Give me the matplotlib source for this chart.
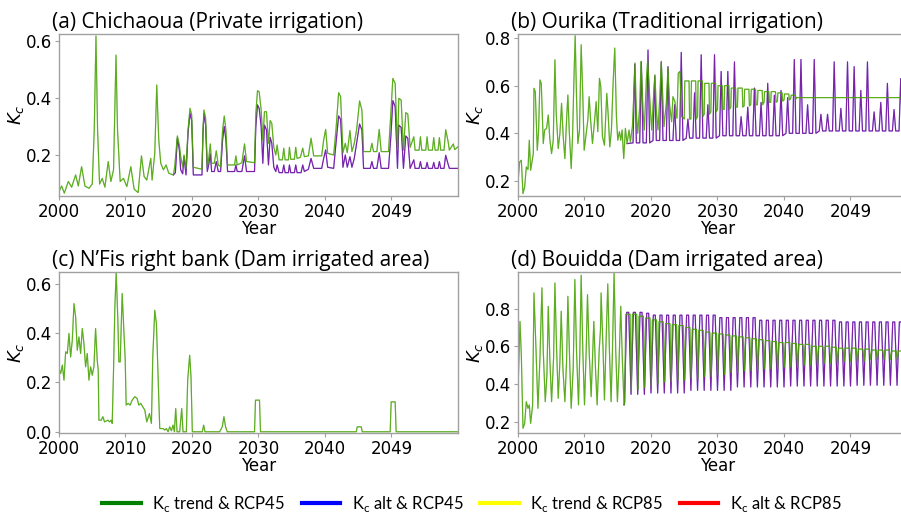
import matplotlib
matplotlib.use("Agg")
import matplotlib.pyplot as plt
from matplotlib.lines import Line2D

# ---------------- data ----------------
tick_years = [2000, 2010, 2020, 2030, 2040, 2050]
tick_labels = ["2000", "2010", "2020", "2030", "2040", "2049"]
titles = ["(a) Chichaoua (Private irrigation)",
          "(b) Ourika (Traditional irrigation)",
          "(c) N\u2019Fis right bank (Dam irrigated area)",
          "(d) Bouidda (Dam irrigated area)"]
legend_labels = [r"K$_\mathregular{c}$ trend & RCP45", r"K$_\mathregular{c}$ alt & RCP45",
                 r"K$_\mathregular{c}$ trend & RCP85", r"K$_\mathregular{c}$ alt & RCP85"]

# (a) Chichaoua  -- (year, Kc) vertices
a_hist = [(2000.0,0.073),(2000.4,0.092),(2000.8,0.067),(2001.4,0.108),(2001.9,0.088),(2002.5,0.131),
          (2002.9,0.092),(2003.4,0.160),(2003.9,0.092),(2004.5,0.084),(2005.0,0.099),(2005.3,0.289),
          (2005.56,0.619),(2005.8,0.289),(2006.1,0.099),(2006.5,0.119),(2006.9,0.088),(2007.4,0.178),
          (2007.8,0.108),(2008.2,0.149),(2008.57,0.552),(2008.8,0.289),(2009.2,0.108),(2009.7,0.119),
          (2010.2,0.090),(2010.8,0.160),(2011.3,0.081),(2011.9,0.069),(2012.4,0.198),(2012.8,0.125),
          (2013.2,0.113),(2013.8,0.189),(2014.0,0.113),(2014.4,0.207),(2014.7,0.447),(2015.0,0.254),
          (2015.3,0.172),(2015.7,0.149),(2016.1,0.166),(2016.5,0.137),(2017.2,0.131)]
a_trend = [(2017.2,0.131),(2017.4,0.160),(2017.8,0.268),(2018.1,0.236),(2018.3,0.195),(2018.6,0.160),
           (2018.8,0.201),(2019.1,0.154),(2019.4,0.289),(2019.7,0.365),(2019.95,0.342),(2020.2,0.158),
           (2021.5,0.151),(2021.65,0.289),(2021.8,0.359),(2022.05,0.330),(2022.3,0.158),(2022.55,0.195),
           (2022.75,0.240),(2022.95,0.172),(2023.35,0.172),(2023.65,0.216),(2023.95,0.166),(2024.3,0.160),
           (2024.6,0.289),(2024.85,0.338),(2025.1,0.289),(2025.35,0.166),(2026.4,0.166),(2026.6,0.198),
           (2026.8,0.166),(2027.5,0.174),(2027.9,0.240),(2028.2,0.178),(2029.4,0.174),(2029.6,0.347),
           (2029.85,0.427),(2030.1,0.423),(2030.4,0.359),(2030.65,0.254),(2030.9,0.353),(2031.2,0.353),
           (2031.5,0.242),(2031.75,0.322),(2032.0,0.312),(2032.3,0.228),(2032.6,0.201),(2032.8,0.236),
           (2033.1,0.184),(2033.6,0.184),(2033.8,0.225),(2034.0,0.184),(2034.5,0.184),(2034.65,0.228),
           (2034.85,0.186),(2035.4,0.186),(2035.6,0.228),(2035.8,0.189),(2036.3,0.193),(2036.65,0.225),
           (2036.9,0.195),(2037.5,0.198),(2037.9,0.260),(2038.3,0.198),(2039.5,0.198),(2039.8,0.254),
           (2040.1,0.291),(2040.4,0.207),(2041.3,0.201),(2041.65,0.289),(2042.05,0.420),(2042.35,0.406),
           (2042.7,0.209),(2043.05,0.242),(2043.35,0.209),(2043.75,0.287),(2044.05,0.213),(2044.4,0.242),
           (2044.75,0.289),(2045.2,0.391),(2045.55,0.359),(2045.8,0.213),(2046.8,0.213),(2047.05,0.242),
           (2047.3,0.213),(2047.8,0.213),(2048.15,0.291),(2048.45,0.213),(2049.55,0.213),(2049.9,0.347),
           (2050.2,0.470),(2050.55,0.453),(2050.9,0.218),(2051.1,0.400),(2051.45,0.394),(2051.8,0.218),
           (2052.15,0.350),(2052.45,0.345),(2052.8,0.228),(2053.35,0.265),(2053.55,0.218),(2054.15,0.218),
           (2054.35,0.265),(2054.55,0.218),(2055.15,0.218),(2055.35,0.265),(2055.55,0.218),(2056.15,0.218),
           (2056.35,0.262),(2056.55,0.218),(2057.0,0.218),(2057.2,0.262),(2057.4,0.218),(2057.9,0.218),
           (2058.15,0.290),(2058.5,0.250),(2058.7,0.218),(2059.3,0.240),(2059.5,0.220),(2060.0,0.230)]
a_alt = [(2017.2,0.131),(2017.5,0.139),(2017.8,0.260),(2018.1,0.219),(2018.3,0.149),(2018.6,0.135),
         (2018.8,0.195),(2019.1,0.131),(2019.4,0.277),(2019.7,0.347),(2019.95,0.322),(2020.2,0.131),
         (2021.5,0.131),(2021.65,0.277),(2021.8,0.347),(2022.05,0.306),(2022.3,0.143),(2022.55,0.172),
         (2022.75,0.205),(2022.95,0.143),(2023.35,0.143),(2023.65,0.178),(2023.95,0.143),(2024.3,0.143),
         (2024.6,0.254),(2024.85,0.301),(2025.1,0.254),(2025.35,0.143),(2026.4,0.143),(2026.6,0.166),
         (2026.8,0.143),(2027.5,0.143),(2027.9,0.198),(2028.2,0.143),(2029.4,0.143),(2029.6,0.301),
         (2029.85,0.377),(2030.1,0.365),(2030.4,0.301),(2030.65,0.172),(2030.9,0.306),(2031.2,0.289),
         (2031.5,0.166),(2031.75,0.263),(2032.0,0.242),(2032.3,0.158),(2032.6,0.143),(2032.8,0.166),
         (2033.1,0.139),(2033.6,0.139),(2033.8,0.166),(2034.0,0.139),(2034.5,0.139),(2034.65,0.166),
         (2034.85,0.139),(2035.4,0.139),(2035.6,0.166),(2035.8,0.139),(2036.4,0.139),(2036.65,0.166),
         (2036.9,0.143),(2037.5,0.151),(2037.9,0.189),(2038.3,0.154),(2039.5,0.154),(2039.8,0.189),
         (2040.1,0.219),(2040.4,0.158),(2041.3,0.154),(2041.65,0.242),(2042.05,0.338),(2042.35,0.326),
         (2042.7,0.158),(2043.05,0.201),(2043.35,0.158),(2043.75,0.195),(2044.05,0.158),(2044.4,0.189),
         (2044.75,0.242),(2045.2,0.310),(2045.55,0.289),(2045.8,0.154),(2046.8,0.154),(2047.05,0.178),
         (2047.3,0.154),(2047.8,0.154),(2048.15,0.209),(2048.45,0.154),(2049.55,0.154),(2049.9,0.265),
         (2050.2,0.392),(2050.55,0.371),(2050.9,0.154),(2051.1,0.306),(2051.45,0.298),(2051.8,0.154),
         (2052.15,0.268),(2052.45,0.260),(2052.8,0.154),(2053.35,0.184),(2053.55,0.154),(2054.15,0.154),
         (2054.35,0.178),(2054.55,0.154),(2055.15,0.154),(2055.35,0.175),(2055.55,0.154),(2056.15,0.154),
         (2056.35,0.175),(2056.55,0.154),(2057.0,0.154),(2057.2,0.178),(2057.4,0.154),(2057.9,0.154),
         (2058.15,0.200),(2058.5,0.170),(2058.7,0.154),(2060.0,0.154)]

# (b) Ourika
b_trend_early = [(2000.0,0.196),(2000.25,0.280),(2000.5,0.287),(2000.75,0.147),(2001.0,0.175),(2001.25,0.259),
                 (2001.5,0.248),(2001.7,0.371),(2001.9,0.245),(2002.3,0.315),(2002.4,0.589),(2002.6,0.575),
                 (2002.9,0.329),(2003.1,0.414),(2003.3,0.624),(2003.5,0.610),(2003.8,0.357),(2004.0,0.414),
                 (2004.3,0.421),(2004.55,0.477),(2004.8,0.371),(2005.05,0.315),(2005.3,0.371),(2005.55,0.709),
                 (2005.75,0.484),(2006.05,0.336),(2006.3,0.400),(2006.55,0.526),(2006.8,0.386),(2007.05,0.294),
                 (2007.3,0.456),(2007.5,0.561),(2007.7,0.414),(2008.0,0.252),(2008.2,0.386),(2008.45,0.667),
                 (2008.6,0.810),(2008.8,0.554),(2009.0,0.357),(2009.25,0.414),(2009.5,0.772),(2009.75,0.554),
                 (2009.95,0.329),(2010.2,0.386),(2010.5,0.456),(2010.7,0.554),(2010.9,0.463),(2011.2,0.357),
                 (2011.5,0.449),(2011.75,0.533),(2012.0,0.407),(2012.25,0.631),(2012.45,0.596),(2012.7,0.386),
                 (2013.0,0.350),(2013.35,0.568),(2013.55,0.484),(2013.8,0.343),(2014.05,0.414),(2014.3,0.610),
                 (2014.55,0.758),(2014.8,0.470),(2015.0,0.371),(2015.25,0.407),(2015.45,0.371),(2015.65,0.414),
                 (2015.9,0.294),(2016.15,0.421),(2016.4,0.357),(2016.7,0.414),(2016.9,0.364),(2017.2,0.428),
                 (2017.4,0.554),(2017.6,0.695),(2017.8,0.484),(2018.0,0.400),(2018.3,0.512),(2018.5,0.702),
                 (2018.8,0.498),(2019.0,0.414),(2019.3,0.624),(2019.5,0.709),(2019.8,0.554),(2020.1,0.414),
                 (2020.35,0.540),(2020.6,0.646),(2020.8,0.498),(2021.05,0.414),(2021.3,0.540),(2021.55,0.702),
                 (2021.7,0.596),(2021.95,0.428),(2022.3,0.526),(2022.55,0.674),(2022.8,0.519),(2023.1,0.449),
                 (2023.3,0.554),(2023.6,0.533),(2023.9,0.463),(2024.1,0.653),(2024.35,0.660),(2024.6,0.470),
                 (2024.95,0.463)]
b_sq_years = list(range(2025, 2042))
b_sq_top = [0.62, 0.62, 0.62, 0.61, 0.61, 0.60, 0.60, 0.59, 0.59, 0.585, 0.585, 0.58, 0.575, 0.575, 0.57, 0.565, 0.56]
b_sq_bot = [0.46, 0.46, 0.47, 0.48, 0.49, 0.50, 0.50, 0.51, 0.51, 0.515, 0.52, 0.52, 0.53, 0.53, 0.535, 0.54, 0.545]
b_trend_late = [(2041.9, 0.55), (2060.0, 0.55)]
b_alt_start = [(2016.4, 0.357)]
b_alt_years = list(range(2017, 2060))
b_alt_peak = [0.69, 0.70, 0.75, 0.64, 0.70, 0.68, 0.52, 0.74, 0.46, 0.57, 0.73, 0.52, 0.73, 0.66, 0.66,
              0.70, 0.47, 0.51, 0.59, 0.53, 0.61, 0.56, 0.58, 0.55, 0.71, 0.71, 0.52, 0.71, 0.48, 0.48,
              0.70, 0.505, 0.70, 0.68, 0.58, 0.70, 0.49, 0.53, 0.61, 0.50, 0.63, 0.48, 0.63]
b_alt_trough = [0.36, 0.36, 0.36, 0.37, 0.37, 0.37, 0.37, 0.37, 0.38, 0.38, 0.38, 0.38, 0.38, 0.39, 0.39,
                0.39, 0.39, 0.39, 0.39, 0.39, 0.39, 0.39, 0.39, 0.40, 0.40, 0.40, 0.40, 0.40, 0.41, 0.41,
                0.41, 0.41, 0.41, 0.41, 0.41, 0.41, 0.41, 0.41, 0.41, 0.41, 0.41, 0.41, 0.41]

# (c) N'Fis right bank
c_trend = [(2000.0,0.256),(2000.25,0.236),(2000.5,0.270),(2000.75,0.209),(2001.0,0.324),(2001.25,0.317),
           (2001.5,0.398),(2001.75,0.303),(2002.0,0.371),(2002.25,0.519),(2002.5,0.465),(2002.75,0.330),
           (2003.0,0.384),(2003.25,0.317),(2003.5,0.418),(2003.75,0.357),(2004.0,0.263),(2004.25,0.317),
           (2004.5,0.209),(2004.75,0.263),(2005.0,0.229),(2005.25,0.263),(2005.5,0.418),(2005.75,0.290),
           (2005.9,0.249),(2006.0,0.047),(2006.35,0.047),(2006.6,0.061),(2006.85,0.040),(2007.35,0.047),
           (2007.6,0.040),(2007.85,0.047),(2008.0,0.034),(2008.2,0.249),(2008.4,0.506),(2008.6,0.647),
           (2008.85,0.452),(2009.0,0.283),(2009.2,0.283),(2009.5,0.560),(2009.75,0.411),(2009.95,0.297),
           (2010.1,0.108),(2010.4,0.115),(2010.7,0.108),(2011.0,0.128),(2011.4,0.142),(2011.75,0.135),
           (2012.0,0.108),(2012.3,0.115),(2012.6,0.101),(2012.9,0.088),(2013.2,0.040),(2013.6,0.074),
           (2013.9,0.034),(2014.1,0.303),(2014.4,0.492),(2014.65,0.438),(2014.95,0.182),(2015.15,0.013),
           (2015.65,0.013),(2015.9,0.007),(2016.15,0.013),(2016.4,0.0),(2016.65,0.020),(2016.9,0.004),
           (2017.15,0.027),(2017.35,0.0),(2017.55,0.094),(2017.75,0.0),(2018.15,0.0),(2018.45,0.094),
           (2018.65,0.0),(2019.15,0.0),(2019.35,0.209),(2019.65,0.310),(2019.85,0.222),(2020.05,0.0),
           (2021.55,0.0),(2021.75,0.027),(2021.95,0.0),(2024.15,0.0),(2024.55,0.020),(2024.8,0.061),
           (2025.05,0.020),(2025.3,0.0),(2029.4,0.0),(2029.55,0.128),(2030.15,0.128),(2030.3,0.0),
           (2044.7,0.0),(2044.85,0.020),(2045.45,0.020),(2045.6,0.0),(2049.8,0.0),(2049.95,0.121),
           (2050.55,0.121),(2050.7,0.0),(2060.0,0.0)]

# (d) Bouidda
d_hist = [(2000.0,0.36),(2000.3,0.732),(2000.5,0.555),(2000.75,0.165),(2001.0,0.191),(2001.25,0.306),
          (2001.5,0.271),(2001.7,0.289),(2001.9,0.191),(2002.2,0.289),(2002.4,0.883),(2002.7,0.590),
          (2003.0,0.271),(2003.3,0.537),(2003.6,0.910),(2003.8,0.573),(2004.1,0.306),(2004.35,0.448),
          (2004.55,0.812),(2004.8,0.519),(2005.05,0.306),(2005.35,0.537),(2005.55,0.936),(2005.8,0.590),
          (2006.05,0.324),(2006.3,0.519),(2006.5,0.786),(2006.75,0.484),(2007.05,0.306),(2007.3,0.519),
          (2007.5,0.865),(2007.8,0.484),(2008.0,0.271),(2008.3,0.484),(2008.55,0.954),(2008.8,0.573),
          (2009.1,0.289),(2009.3,0.573),(2009.5,0.977),(2009.75,0.573),(2010.0,0.289),(2010.25,0.573),
          (2010.45,0.874),(2010.7,0.573),(2011.0,0.333),(2011.2,0.537),(2011.4,0.732),(2011.65,0.484),
          (2011.9,0.289),(2012.2,0.573),(2012.4,0.688),(2012.5,0.883),(2012.8,0.573),(2013.0,0.315),
          (2013.2,0.573),(2013.5,0.931),(2013.75,0.573),(2014.0,0.306),(2014.2,0.573),(2014.45,0.990),
          (2014.7,0.573),(2014.95,0.306),(2015.2,0.519),(2015.45,0.812),(2015.7,0.519),(2015.95,0.289)]
d_years = list(range(2016, 2060))
d_alt_hi = [0.78, 0.78, 0.78, 0.775, 0.765, 0.765, 0.765, 0.765, 0.765, 0.765, 0.765, 0.765, 0.765, 0.765,
            0.752, 0.752, 0.752, 0.752, 0.752, 0.752, 0.738, 0.738, 0.738, 0.738, 0.738, 0.738, 0.738,
            0.738, 0.738, 0.738, 0.738, 0.738, 0.729, 0.729, 0.729, 0.729, 0.729, 0.729, 0.729, 0.729,
            0.729, 0.729, 0.729, 0.717]
d_alt_lo = [0.29, 0.345, 0.345, 0.345, 0.352, 0.352, 0.352, 0.352, 0.352, 0.352, 0.366, 0.366, 0.366,
            0.366, 0.366, 0.366, 0.366, 0.384, 0.384, 0.384, 0.384, 0.384, 0.384, 0.384, 0.384, 0.389,
            0.389, 0.389, 0.389, 0.389, 0.389, 0.389, 0.389, 0.389, 0.389, 0.393, 0.393, 0.393, 0.393,
            0.393, 0.393, 0.393, 0.393, 0.393]
d_trend_hi = [0.77, 0.77, 0.76, 0.75, 0.74, 0.73, 0.72, 0.715, 0.71, 0.70, 0.69, 0.685, 0.675, 0.67,
              0.665, 0.66, 0.655, 0.65, 0.645, 0.64, 0.635, 0.63, 0.625, 0.62, 0.62, 0.615, 0.61, 0.61,
              0.60, 0.60, 0.60, 0.595, 0.59, 0.59, 0.59, 0.585, 0.585, 0.58, 0.58, 0.58, 0.575, 0.575,
              0.57, 0.57]
d_trend_lo = [0.30, 0.36, 0.37, 0.38, 0.39, 0.40, 0.41, 0.41, 0.42, 0.42, 0.43, 0.43, 0.44, 0.44,
              0.45, 0.45, 0.46, 0.46, 0.47, 0.47, 0.47, 0.48, 0.48, 0.48, 0.49, 0.49, 0.49, 0.50,
              0.50, 0.50, 0.51, 0.51, 0.51, 0.52, 0.52, 0.52, 0.52, 0.53, 0.53, 0.53, 0.53, 0.53,
              0.53, 0.53]

# ---------------- helpers ----------------
def unzip(pairs):
    return [p[0] for p in pairs], [p[1] for p in pairs]

def cycles(years, lo, hi, shape):
    """Vertices of a seasonal cycle: each year goes through the read low/high values."""
    t, v = [], []
    for y, l, h in zip(years, lo, hi):
        for dx, top in shape:
            t.append(y + dx)
            v.append(h if top else l)
    return t, v

B_ALT_SHAPE = [(0.3, 0), (0.55, 1), (0.8, 0)]
B_SQ_SHAPE = [(0.0, 0), (0.08, 1), (0.72, 1), (0.8, 0)]
D_ALT_SHAPE = [(0.0, 0), (0.35, 1), (0.65, 1)]
D_TREND_SHAPE = [(0.05, 0), (0.2, 1), (0.85, 1)]

# build series
a_tr_t, a_tr_v = unzip(a_hist + a_trend)
a_al_t, a_al_v = unzip(a_alt)

bt1, bv1 = unzip(b_trend_early)
bt2, bv2 = cycles(b_sq_years, b_sq_bot, b_sq_top, B_SQ_SHAPE)
bt3, bv3 = unzip(b_trend_late)
b_tr_t, b_tr_v = bt1 + bt2 + bt3, bv1 + bv2 + bv3
bat0, bav0 = unzip(b_alt_start)
bat1, bav1 = cycles(b_alt_years, b_alt_trough, b_alt_peak, B_ALT_SHAPE)
b_al_t, b_al_v = bat0 + bat1, bav0 + bav1

c_tr_t, c_tr_v = unzip(c_trend)

dh_t, dh_v = unzip(d_hist)
dt_t, dt_v = cycles(d_years, d_trend_lo, d_trend_hi, D_TREND_SHAPE)
d_tr_t, d_tr_v = dh_t + dt_t, dh_v + dt_v
da_t, da_v = cycles(d_years, d_alt_lo, d_alt_hi, D_ALT_SHAPE)
d_al_t, d_al_v = [dh_t[-1]] + da_t, [dh_v[-1]] + da_v

panels = [
    (a_tr_t, a_tr_v, a_al_t, a_al_v, (0.057, 0.626), [0.2, 0.4, 0.6]),
    (b_tr_t, b_tr_v, b_al_t, b_al_v, (0.137, 0.817), [0.2, 0.4, 0.6, 0.8]),
    (c_tr_t, c_tr_v, None, None, (-0.005, 0.647), [0.0, 0.2, 0.4, 0.6]),
    (d_tr_t, d_tr_v, d_al_t, d_al_v, (0.14, 0.994), [0.2, 0.4, 0.6, 0.8]),
]

# ---------------- figure ----------------
W, H = 901, 513
fig = plt.figure(figsize=(W / 100, H / 100), dpi=100)
boxes = [(59, 34, 399, 162), (518, 34, 399, 162), (59, 272, 399, 161), (518, 272, 399, 161)]
spine_c = "#a0a0a0"
lw = 0.85

for (tr_t, tr_v, al_t, al_v, ylim, yt), (x0, y0, w, h), title in zip(panels, boxes, titles):
    ax = fig.add_axes([x0 / W, 1 - (y0 + h) / H, w / W, h / H])
    if al_t is not None:
        ax.plot(al_t, al_v, color="blue", lw=lw, alpha=0.8)
        ax.plot(al_t, al_v, color="red", lw=lw, alpha=0.35)
    ax.plot(tr_t, tr_v, color="green", lw=lw, alpha=0.85)
    ax.plot(tr_t, tr_v, color="yellow", lw=lw, alpha=0.25)
    ax.set_xlim(2000, 2060)
    ax.set_ylim(*ylim)
    ax.set_xticks(tick_years)
    ax.set_xticklabels(tick_labels)
    ax.set_yticks(yt)
    ax.tick_params(axis="both", labelsize=12, length=3, width=0.8, color=spine_c, pad=2)
    for s in ax.spines.values():
        s.set_color(spine_c)
        s.set_linewidth(1.0)
    ax.set_xlabel("Year", fontsize=12, labelpad=-1)
    ax.set_ylabel(r"$K_c$", fontsize=13, labelpad=0)
    ax.text(-7 / w, 1 + 6 / h, title, transform=ax.transAxes, ha="left", va="baseline",
            fontsize=15, family="Open Sans")

handles = [Line2D([0], [0], color=c, lw=3) for c in ["green", "blue", "yellow", "red"]]
fig.legend(handles, legend_labels, loc="center", bbox_to_anchor=(472 / W, 1 - 504 / H),
           ncol=4, frameon=False, prop={"family": "Lato", "size": 12},
           handlelength=2.3, handletextpad=0.7, columnspacing=1.0, borderpad=0)

fig.savefig("out.png", dpi=100)
